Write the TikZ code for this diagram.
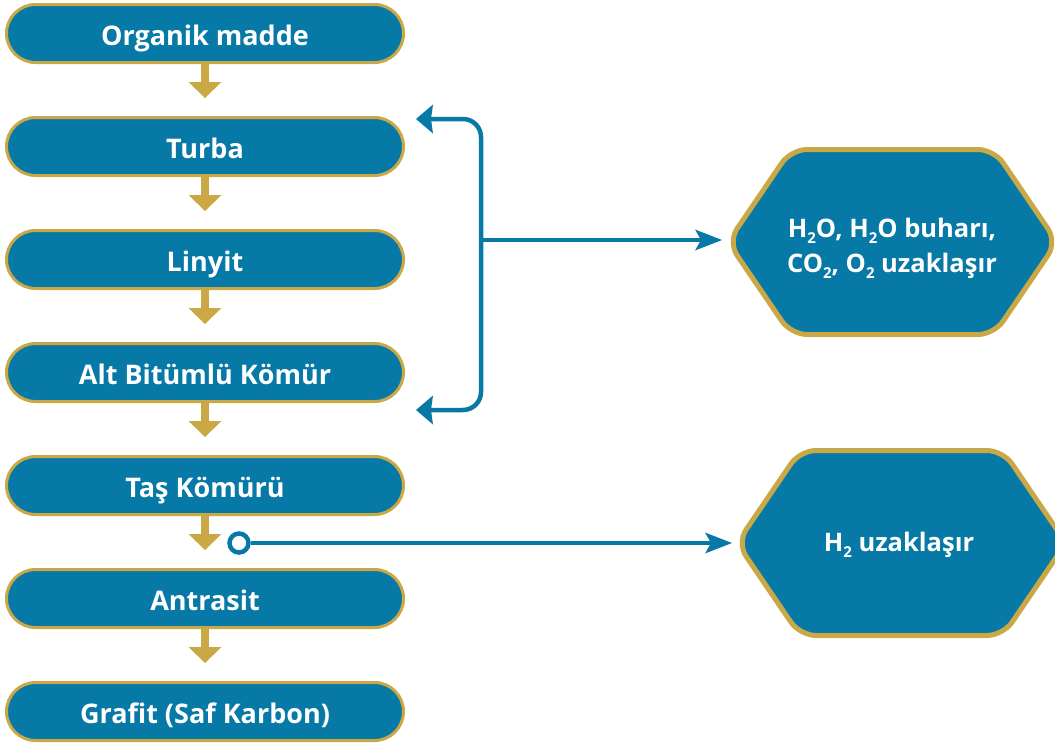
\documentclass[tikz,border=0pt]{standalone}
\usepackage{fontspec}
\setmainfont{Open Sans}
\usetikzlibrary{arrows.meta}
\definecolor{cblue}{HTML}{0779A6}
\definecolor{cgold}{HTML}{CBA846}
\newcommand\subnum[1]{\raisebox{-6pt}{\fontsize{15}{15}\selectfont #1}}
\begin{document}
\begin{tikzpicture}[x=1pt,y=-1pt,
  stage/.style={rectangle, rounded corners=29pt, fill=cblue, draw=cgold, line width=3pt,
    minimum width=397pt, minimum height=58pt, text=white, inner sep=0pt,
    font=\bfseries\fontsize{27}{30}\selectfont, text height=24pt, text depth=0pt},
  flow/.style={draw=cgold, line width=8pt, shorten >=18pt,
    -{Triangle[length=16pt,width=33pt,line width=0pt]}},
  bline/.style={draw=cblue, line width=4.5pt},
  hexshape/.style={fill=cblue, draw=cgold, line width=5pt, rounded corners=16pt},
  hextext/.style={text=white, align=center, font=\bfseries\fontsize{25.5}{35}\selectfont, inner sep=0pt},
  bhead/.tip={Stealth[length=17pt,width=29pt,inset=2pt,line width=0pt]},
  shead/.tip={Stealth[length=27pt,width=21pt,inset=6pt,line width=0pt]}
]
\useasboundingbox (0,0) rectangle (1055,745);
% stages
\node[stage] (n1) at (205,33.5) {Organik madde};
\node[stage] (n2) at (205,146.5) {Turba};
\node[stage] (n3) at (205,259.5) {Linyit};
\node[stage] (n4) at (205,372.5) {Alt Bitümlü Kömür};
\node[stage] (n5) at (205,485.5) {Taş Kömürü};
\node[stage] (n6) at (205,598.5) {Antrasit};
\node[stage] (n7) at (205,711.5) {Grafit (Saf Karbon)};
% gold arrows
\draw[flow] (n1) -- (n2);
\draw[flow] (n2) -- (n3);
\draw[flow] (n3) -- (n4);
\draw[flow] (n4) -- (n5);
\draw[flow] (n5) -- (n6);
\draw[flow] (n6) -- (n7);
% hexagons
\path[hexshape] (728,242) -- (791,149.5) -- (994,149.5) -- (1057,242) -- (994,334.5) -- (791,334.5) -- cycle;
\node[hextext] (h1) at (892,248) {H\subnum{2}O, H\subnum{2}O buharı,\\CO\subnum{2}, O\subnum{2} uzaklaşır};
\path[hexshape] (737,543) -- (800,450.5) -- (1003,450.5) -- (1066,543) -- (1003,635.5) -- (800,635.5) -- cycle;
\node[hextext] (h2) at (899,545) {H\subnum{2} uzaklaşır};
% blue bracket
\coordinate (t1) at (416,119);
\coordinate (t2) at (416,410);
\coordinate (vb) at (481,410);
\coordinate (br) at (481,240);
\coordinate (h1in) at (722,240);
\draw[bline, rounded corners=18pt, bhead-bhead] (t1) -| (vb) -- (t2);
\draw[bline, -shead] (br) -- (h1in);
% circle connector
\node[circle, draw=cblue, fill=white, line width=4.5pt, minimum size=19pt, inner sep=0pt] (c) at (239,543) {};
\coordinate (h2in) at (732,543);
\draw[bline, -shead] (c) -- (h2in);
\end{tikzpicture}
\end{document}
